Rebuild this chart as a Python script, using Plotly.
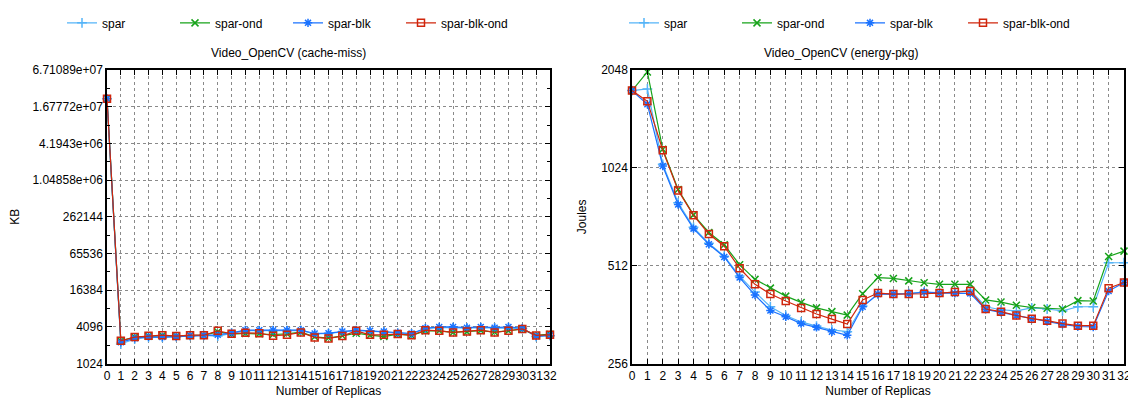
import plotly.graph_objects as go

replicas = list(range(33))
series_names = ["spar", "spar-ond", "spar-blk", "spar-blk-ond"]

# cache-miss (KB)
cache_spar = [22600000, 2150, 2600, 2760, 2760, 2840, 2950, 2980, 2900, 3250, 3560, 3560, 3560, 3560, 3600,
              3150, 3200, 3400, 3560, 3500, 3400, 3250, 3150, 3850, 4000, 4000, 3900, 4000, 3950, 4000, 3850, 2850, 2950]
cache_ond = [22600000, 2430, 2790, 2900, 2950, 2900, 2960, 3000, 3400, 3120, 3200, 3160, 3080, 3160, 3360,
             2820, 2690, 2930, 3240, 3000, 2850, 3120, 2970, 3540, 3540, 3330, 3400, 3570, 3360, 3540, 3760, 2970, 3120]
cache_blk = [22600000, 2290, 2680, 2820, 2800, 2860, 2970, 3000, 3040, 3280, 3620, 3620, 3620, 3620, 3620,
             3200, 3240, 3440, 3620, 3540, 3440, 3280, 3200, 3900, 4096, 4096, 3990, 4096, 3990, 4096, 3900, 2900, 2970]
cache_blk_ond = [22600000, 2430, 2790, 2930, 3000, 2900, 3000, 3000, 3540, 3170, 3280, 3240, 2940, 3040, 3330,
                 2760, 2660, 2900, 3540, 3040, 3040, 3130, 3000, 3620, 3540, 3330, 3440, 3620, 3330, 3540, 3800, 2980, 3040]

# energy-pkg (Joules)
energy_spar = [1770, 1790, 1050, 800, 672, 600, 548, 476, 425, 383, 360, 344, 334, 325, 321,
               385, 419, 419, 421, 425, 422, 425, 431, 383, 375, 372, 380, 377, 372, 383, 383, 523, 523]
energy_ond = [1770, 2020, 1168, 879, 734, 648, 594, 516, 465, 437, 413, 395, 380, 370, 361,
              420, 471, 468, 460, 454, 449, 449, 449, 402, 396, 387, 381, 379, 377, 400, 399, 547, 568]
energy_blk = [1770, 1607, 1038, 790, 666, 596, 545, 471, 416, 373, 357, 340, 331, 321, 313,
              383, 419, 419, 420, 425, 422, 421, 421, 376, 368, 360, 351, 345, 338, 333, 332, 428, 455]
energy_blk_ond = [1770, 1640, 1160, 873, 732, 641, 588, 503, 449, 419, 399, 380, 364, 351, 339,
                  402, 422, 419, 419, 420, 422, 425, 428, 377, 370, 360, 352, 347, 340, 335, 335, 437, 455]

cache_ticks = [1024, 4096, 16384, 65536, 262144, 1048576, 4194304, 16777216, 67108864]
cache_ticktext = ["1024", "4096", "16384", "65536", "262144", "1.04858e+06", "4.1943e+06", "1.67772e+07", "6.71089e+07"]
cache_minor = [2048, 8192, 32768, 131072, 524288, 2097152, 8388608, 33554432]
energy_ticks = [256, 512, 1024, 2048]

colors = ["#55b4f8", "#17a31a", "#1a72ff", "#d0260c"]
symbols = ["cross-thin-open", "x-thin-open", "asterisk-open", "square-open"]

FONT = "Liberation Sans, Arial, sans-serif"
FS = 12

fig = go.Figure()

left_data = [cache_spar, cache_ond, cache_blk, cache_blk_ond]
right_data = [energy_spar, energy_ond, energy_blk, energy_blk_ond]

for i, name in enumerate(series_names):
    fig.add_trace(go.Scatter(
        x=replicas, y=left_data[i], name=name, mode="lines+markers",
        line=dict(color=colors[i], width=1.2),
        marker=dict(symbol=symbols[i], size=7, color=colors[i], line=dict(color=colors[i], width=1.5)),
        xaxis="x", yaxis="y", legend="legend", cliponaxis=False))
for i, name in enumerate(series_names):
    fig.add_trace(go.Scatter(
        x=replicas, y=right_data[i], name=name, mode="lines+markers",
        line=dict(color=colors[i], width=1.2),
        marker=dict(symbol=symbols[i], size=7, color=colors[i], line=dict(color=colors[i], width=1.5)),
        xaxis="x2", yaxis="y2", legend="legend2", cliponaxis=False))

# page body has an 8px margin: the figure is sized to fill the rest of the window
OFF = 8
W, H = 1136 - OFF, 400 - OFF
def px_x(p):
    return (p - OFF) / W
def px_y(p):
    return 1 - (p - OFF) / H

font = dict(family=FONT, size=FS, color="black")

common_x = dict(
    range=[0, 32], tickmode="array", tickvals=replicas, ticktext=[str(r) for r in replicas],
    ticks="inside", ticklen=5, tickcolor="black", mirror="allticks", tickangle=0,
    showline=True, linecolor="black", linewidth=1.5,
    showgrid=True, gridcolor="#8a8a8a", griddash="dot", gridwidth=1,
    zeroline=False, tickfont=font, automargin=False,
    title=dict(text="Number of Replicas", font=font, standoff=5),
)

fig.update_layout(
    width=W, height=H, margin=dict(l=0, r=0, t=0, b=0),
    paper_bgcolor="white", plot_bgcolor="white",
    font=font,
    xaxis=dict(domain=[px_x(107), px_x(550)], anchor="y", **common_x),
    xaxis2=dict(domain=[px_x(632), px_x(1124)], anchor="y2", **common_x),
    yaxis=dict(
        domain=[px_y(363), px_y(64)], anchor="x", type="log",
        range=[3.0103, 7.82678], automargin=False,
        tickmode="array", tickvals=cache_ticks, ticktext=cache_ticktext,
        ticks="inside", ticklen=5, tickcolor="black", mirror="allticks",
        showline=True, linecolor="black", linewidth=1.5,
        showgrid=True, gridcolor="#8a8a8a", griddash="dot", gridwidth=1,
        minor=dict(tickvals=cache_minor, ticks="inside", ticklen=3, tickcolor="black", showgrid=False),
        tickfont=font,
        title=dict(text="KB", font=font, standoff=12),
    ),
    yaxis2=dict(
        domain=[px_y(363), px_y(64)], anchor="x2", type="log",
        range=[2.40824, 3.31130], automargin=False,
        tickmode="array", tickvals=energy_ticks, ticktext=[str(t) for t in energy_ticks],
        ticks="inside", ticklen=5, tickcolor="black", mirror="allticks",
        showline=True, linecolor="black", linewidth=1.5,
        showgrid=True, gridcolor="#8a8a8a", griddash="dot", gridwidth=1,
        tickfont=font,
        title=dict(text="Joules", font=font, standoff=12),
    ),
    legend=dict(orientation="h", x=px_x(62), y=px_y(16), xanchor="left", yanchor="middle",
                entrywidth=68, entrywidthmode="pixels", font=font,
                bgcolor="rgba(0,0,0,0)", tracegroupgap=0, itemwidth=30),
    legend2=dict(orientation="h", x=px_x(624), y=px_y(16), xanchor="left", yanchor="middle",
                 entrywidth=68, entrywidthmode="pixels", font=font,
                 bgcolor="rgba(0,0,0,0)", tracegroupgap=0, itemwidth=30),
    annotations=[
        dict(text="Video_OpenCV (cache-miss)", x=px_x(288), y=px_y(47), xref="paper", yref="paper",
             showarrow=False, xanchor="center", yanchor="middle", font=font),
        dict(text="Video_OpenCV (energy-pkg)", x=px_x(841), y=px_y(47), xref="paper", yref="paper",
             showarrow=False, xanchor="center", yanchor="middle", font=font),
    ],
)

fig.write_html("out.html")
